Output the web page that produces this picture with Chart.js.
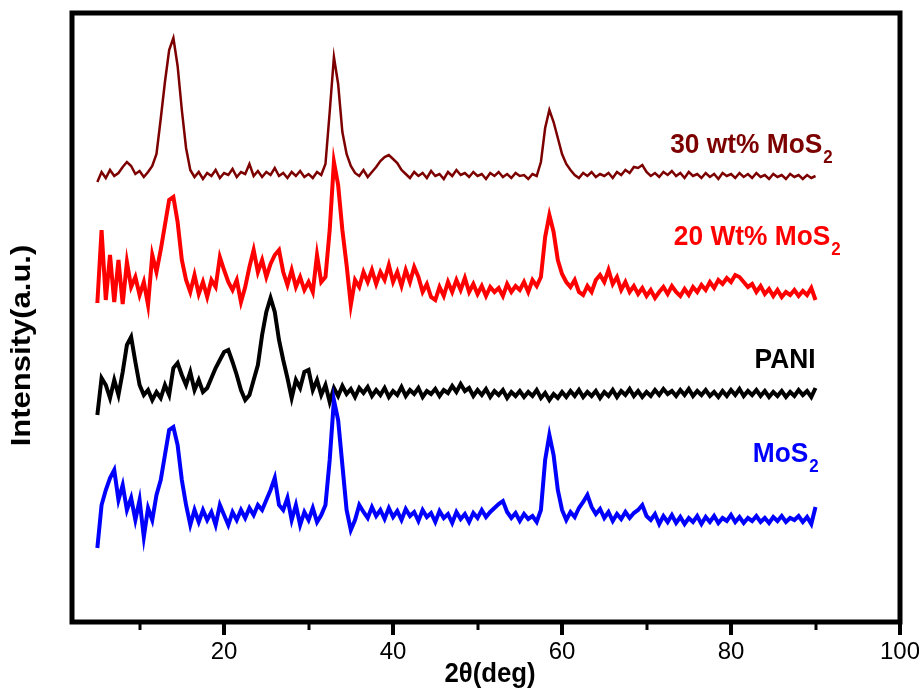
<!DOCTYPE html>
<html>
<head>
<meta charset="utf-8">
<title>XRD patterns</title>
<script src="https://cdn.jsdelivr.net/npm/chart.js@4.4.1/dist/chart.umd.min.js"></script>
<style>
  html, body { margin: 0; padding: 0; background: #fff; }
  canvas { display: block; }
</style>
</head>
<body>
<canvas id="xrd-chart" width="919" height="689"></canvas>
<script>
// 2theta sampling (deg)
const twoTheta = [
  5, 5.5, 6, 6.5, 7, 7.5, 8, 8.5, 9, 9.5,
  10, 10.5, 11, 11.5, 12, 12.5, 13, 13.5, 14, 14.5,
  15, 15.5, 16, 16.5, 17, 17.5, 18, 18.5, 19, 19.5,
  20, 20.5, 21, 21.5, 22, 22.5, 23, 23.5, 24, 24.5,
  25, 25.5, 26, 26.5, 27, 27.5, 28, 28.5, 29, 29.5,
  30, 30.5, 31, 31.5, 32, 32.5, 33, 33.5, 34, 34.5,
  35, 35.5, 36, 36.5, 37, 37.5, 38, 38.5, 39, 39.5,
  40, 40.5, 41, 41.5, 42, 42.5, 43, 43.5, 44, 44.5,
  45, 45.5, 46, 46.5, 47, 47.5, 48, 48.5, 49, 49.5,
  50, 50.5, 51, 51.5, 52, 52.5, 53, 53.5, 54, 54.5,
  55, 55.5, 56, 56.5, 57, 57.5, 58, 58.5, 59, 59.5,
  60, 60.5, 61, 61.5, 62, 62.5, 63, 63.5, 64, 64.5,
  65, 65.5, 66, 66.5, 67, 67.5, 68, 68.5, 69, 69.5,
  70, 70.5, 71, 71.5, 72, 72.5, 73, 73.5, 74, 74.5,
  75, 75.5, 76, 76.5, 77, 77.5, 78, 78.5, 79, 79.5,
  80, 80.5, 81, 81.5, 82, 82.5, 83, 83.5, 84, 84.5,
  85, 85.5, 86, 86.5, 87, 87.5, 88, 88.5, 89, 89.5,
  90
];

// intensities (a.u.), patterns stacked with their offsets included
const mos2Pure = [
  74, 117, 132, 144, 152, 122, 137, 112, 124, 102,
  122, 85, 114, 102, 127, 142, 167, 192, 195, 177,
  142, 117, 97, 112, 100, 112, 102, 110, 97, 117,
  107, 97, 110, 102, 112, 104, 114, 107, 117, 112,
  122, 132, 144, 117, 112, 124, 102, 117, 97, 110,
  102, 114, 100, 107, 117, 162, 222, 202, 157, 112,
  92, 102, 117, 110, 104, 115, 106, 112, 103, 114,
  105, 111, 102, 113, 106, 110, 101, 112, 105, 109,
  100, 111, 104, 108, 99, 110, 103, 108, 100, 109,
  104, 112, 105, 110, 114, 118, 121, 110, 104, 109,
  101, 108, 103, 106, 100, 112, 162, 187, 167, 132,
  112, 102, 110, 105, 114, 120, 127, 115, 108, 113,
  104, 110, 101, 108, 103, 110, 104, 109, 112, 117,
  106, 102, 108, 98, 106, 100, 107, 99, 105, 98,
  104, 100, 106, 98, 105, 100, 106, 99, 104, 101,
  107, 100, 105, 99, 104, 101, 106, 100, 104, 99,
  105, 101, 106, 100, 104, 102, 106, 100, 105, 98,
  115
];

const pani = [
  207, 244, 237, 224, 242, 227, 250, 277, 285, 260,
  237, 227, 232, 222, 230, 224, 237, 227, 254, 259,
  247, 237, 250, 232, 242, 230, 234, 244, 254, 262,
  270, 272, 260, 247, 232, 222, 227, 242, 257, 287,
  310, 324, 310, 282, 262, 244, 224, 242, 234, 250,
  252, 232, 242, 227, 237, 220, 234, 226, 236, 228,
  233, 225, 234, 229, 235, 226, 232, 227, 234, 225,
  231, 227, 235, 226, 232, 228, 234, 225, 231, 228,
  233, 226, 232, 229, 236, 230, 238, 231, 234, 226,
  232, 227, 233, 225, 231, 227, 232, 224, 230, 226,
  231, 225, 230, 226, 232, 224, 229, 222, 228, 224,
  230, 225, 231, 226, 232, 225, 230, 226, 231, 224,
  230, 226, 232, 225, 231, 227, 233, 226, 231, 225,
  230, 226, 232, 227, 233, 228, 231, 226, 232, 227,
  233, 226, 231, 227, 232, 226, 230, 225, 231, 226,
  232, 227, 233, 226, 231, 227, 232, 226, 231, 225,
  230, 226, 231, 225, 230, 226, 232, 227, 231, 225,
  234
];

const mos2Wt20 = [
  319, 392, 322, 367, 320, 362, 318, 360, 335, 345,
  327, 340, 317, 367, 350, 372, 397, 422, 425, 400,
  362, 342, 330, 347, 328, 340, 325, 342, 335, 365,
  352, 340, 332, 342, 320, 335, 355, 372, 350, 362,
  345, 358, 367, 372, 350, 337, 352, 335, 345, 332,
  340, 330, 367, 340, 345, 392, 460, 437, 392, 357,
  317, 342, 335, 350, 340, 352, 338, 350, 342, 357,
  340, 350, 336, 352, 340, 355, 345, 330, 338, 325,
  322, 335, 326, 340, 330, 342, 332, 344, 330, 338,
  328, 336, 326, 335, 330, 334, 326, 338, 330, 336,
  332, 340, 330, 342, 336, 345, 385, 407, 390, 362,
  348, 340, 335, 342, 330, 327, 336, 330, 342, 347,
  340, 352, 338, 345, 332, 340, 330, 336, 328, 334,
  326, 332, 324, 330, 335, 328, 336, 330, 326, 333,
  327, 335, 330, 337, 332, 340, 334, 342, 338, 344,
  340, 347, 345, 340, 335, 338, 330, 336, 328, 333,
  326, 332, 325, 330, 327, 332, 326, 331, 327, 334,
  322
];

const mos2Wt30 = [
  440, 450, 444, 452, 446, 449, 455, 460, 456, 448,
  451, 445, 450, 456, 468, 503, 540, 572, 584, 556,
  512, 474, 452, 445, 450, 443, 449, 446, 452, 444,
  449, 447, 453, 445, 450, 448, 458, 446, 451, 445,
  450, 447, 454, 446, 449, 444, 450, 446, 451, 445,
  448, 444, 450, 447, 458, 510, 565, 538, 490, 468,
  456, 449, 446, 452, 445, 450, 455, 461, 465, 467,
  463, 459, 452, 448, 444, 450, 446, 449, 444, 451,
  446, 448, 443, 450, 446, 452, 447, 449, 445, 450,
  446, 448, 443, 449, 446, 450, 445, 448, 444, 449,
  446, 447, 443, 448, 446, 460, 494, 512, 500, 484,
  468, 458, 452, 447, 444, 449, 446, 450, 445, 448,
  446, 449, 444, 450, 447, 452, 449, 455, 454, 457,
  450, 446, 449, 445, 450, 447, 451, 446, 449, 444,
  450, 446, 448, 444, 449, 445, 448, 443, 449, 446,
  448, 444, 449, 445, 448, 444, 449, 445, 447, 443,
  448, 445, 447, 443, 448, 445, 447, 443, 447, 444,
  446
];

const xMajorTicks = [20, 40, 60, 80, 100];
const xMinorTicks = [10, 30, 50, 70, 90];

// curve labels: text, subscript, right edge (deg), baseline (a.u.)
const curveNames = ['30 wt% MoS', '20 Wt% MoS', 'PANI', 'MoS'];
const curveSubs = ['2', '2', '', '2'];
const curveColors = ['#7d0000', '#ff0000', '#000000', '#0000ff'];
const labelTheta = [90.8, 91.75, 90.0, 89.15];
const labelLevel = [469, 377, 254, 160];

const FONT = "'Liberation Sans', Arial, sans-serif";

function toPoints(values) {
  return values.map((v, i) => ({ x: twoTheta[i], y: v }));
}

// draw text squeezed horizontally, like the narrow lettering of the plot
function squeezedText(ctx, text, px, py, font, color, align, squeeze) {
  ctx.save();
  ctx.font = font;
  ctx.fillStyle = color;
  ctx.textAlign = align;
  ctx.textBaseline = 'alphabetic';
  ctx.translate(px, py);
  ctx.scale(squeeze, 1);
  ctx.fillText(text, 0, 0);
  ctx.restore();
}

const frameAndLabels = {
  id: 'frameAndLabels',
  afterDatasetsDraw(chart) {
    const { ctx, chartArea: area } = chart;
    const xScale = chart.scales.x;
    const yScale = chart.scales.y;
    ctx.save();

    // box around the plot
    ctx.strokeStyle = '#000';
    ctx.lineWidth = 5;
    ctx.strokeRect(area.left, area.top, area.right - area.left, area.bottom - area.top);

    // outward ticks on the bottom axis
    ctx.lineCap = 'butt';
    xMajorTicks.forEach(v => {
      const px = Math.round(xScale.getPixelForValue(v));
      ctx.lineWidth = 4;
      ctx.beginPath();
      ctx.moveTo(px, area.bottom);
      ctx.lineTo(px, area.bottom + 13);
      ctx.stroke();
    });
    xMinorTicks.forEach(v => {
      const px = Math.round(xScale.getPixelForValue(v));
      ctx.lineWidth = 3;
      ctx.beginPath();
      ctx.moveTo(px, area.bottom);
      ctx.lineTo(px, area.bottom + 8);
      ctx.stroke();
    });

    // axis titles
    squeezedText(ctx, '2\u03b8(deg)', (area.left + area.right) / 2 + 4, 682,
      'bold 28px ' + FONT, '#000', 'center', 0.92);

    ctx.save();
    ctx.translate(22, (area.top + area.bottom) / 2 + 28);
    ctx.rotate(-Math.PI / 2);
    ctx.scale(1, 0.88);
    ctx.font = 'bold 31px ' + FONT;
    ctx.fillStyle = '#000';
    ctx.textAlign = 'center';
    ctx.textBaseline = 'middle';
    ctx.fillText('Intensity(a.u.)', 0, 0);
    ctx.restore();

    // curve names with subscripts
    curveNames.forEach((name, i) => {
      const px = xScale.getPixelForValue(labelTheta[i]);
      const py = yScale.getPixelForValue(labelLevel[i]);
      squeezedText(ctx, name, px, py, 'bold 28px ' + FONT, curveColors[i], 'right', 0.94);
      if (curveSubs[i]) {
        squeezedText(ctx, curveSubs[i], px + 1, py + 10, 'bold 18px ' + FONT, curveColors[i], 'left', 0.94);
      }
    });

    ctx.restore();
  }
};

document.addEventListener('DOMContentLoaded', function() {
  const ctx = document.getElementById('xrd-chart').getContext('2d');

  // listed top-down in drawing priority (first one ends up on top)
  const datasets = [
    { data: toPoints(mos2Pure), borderColor: curveColors[3], borderWidth: 4 },
    { data: toPoints(pani), borderColor: curveColors[2], borderWidth: 4 },
    { data: toPoints(mos2Wt20), borderColor: curveColors[1], borderWidth: 4 },
    { data: toPoints(mos2Wt30), borderColor: curveColors[0], borderWidth: 2.5 }
  ].map(ds => Object.assign(ds, {
    pointRadius: 0,
    tension: 0,
    fill: false,
    borderJoinStyle: 'miter'
  }));

  new Chart(ctx, {
    type: 'line',
    data: { datasets: datasets },
    options: {
      responsive: false,
      animation: false,
      devicePixelRatio: 1,
      layout: { padding: { top: 13, right: 19, left: 0, bottom: 0 } },
      plugins: {
        legend: { display: false },
        tooltip: { enabled: false }
      },
      scales: {
        x: {
          type: 'linear',
          min: 2,
          max: 100,
          grid: { display: false, drawTicks: false },
          border: { display: false },
          ticks: {
            color: '#000',
            padding: 16,
            maxRotation: 0,
            autoSkip: false,
            font: { family: FONT, size: 24 }
          },
          afterBuildTicks: function(scale) {
            scale.ticks = xMajorTicks.map(v => ({ value: v }));
          },
          afterFit: function(scale) {
            scale.height = 67;
            scale.paddingLeft = 0;
            scale.paddingRight = 0;
          }
        },
        y: {
          min: 0,
          max: 609,
          grid: { display: false, drawTicks: false },
          border: { display: false },
          ticks: { display: false },
          afterFit: function(scale) {
            scale.width = 72;
          }
        }
      }
    },
    plugins: [frameAndLabels]
  });
  console.log('XRD chart rendered.');
});
</script>
</body>
</html>
